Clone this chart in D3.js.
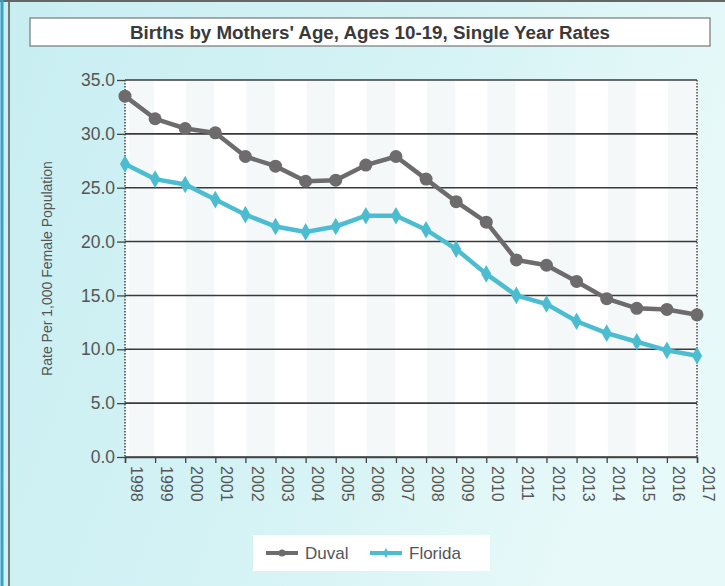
<!DOCTYPE html>
<html><head><meta charset="utf-8">
<script src="https://cdn.jsdelivr.net/npm/d3@7"></script>
<style>body{margin:0;background:#fff}svg{display:block}</style>
</head><body><svg id="c" width="725" height="586"></svg>
<script>
const years = [1998,1999,2000,2001,2002,2003,2004,2005,2006,2007,2008,2009,2010,2011,2012,2013,2014,2015,2016,2017];
const duval = [33.5,31.4,30.5,30.1,27.9,27.0,25.6,25.7,27.1,27.9,25.8,23.7,21.8,18.3,17.8,16.3,14.7,13.8,13.7,13.2];
const florida = [27.2,25.8,25.3,23.9,22.5,21.4,20.9,21.4,22.4,22.4,21.1,19.3,17.0,15.0,14.2,12.6,11.5,10.7,9.9,9.4];
const yTicks = [0,5,10,15,20,25,30,35];
const title = "Births by Mothers' Age, Ages 10-19, Single Year Rates";
const yLabel = "Rate Per 1,000 Female Population";
const seriesNames = ["Duval","Florida"];

const NARROW = "Liberation Sans Narrow, Arial Narrow, Liberation Sans, Arial, sans-serif";
const svg = d3.select("#c");
const defs = svg.append("defs");
const g1 = defs.append("linearGradient").attr("id","bg").attr("x1","0").attr("x2","1").attr("y1","0").attr("y2","0.3");
g1.append("stop").attr("offset","0").attr("stop-color","#c8eef2");
g1.append("stop").attr("offset","0.6").attr("stop-color","#d6f3f5");
g1.append("stop").attr("offset","1").attr("stop-color","#e8f9f9");
svg.append("rect").attr("width",725).attr("height",586).attr("fill","url(#bg)");
svg.append("line").attr("x1",9).attr("x2",9).attr("y1",0).attr("y2",586).attr("stroke","#555").attr("stroke-width",1.5);
svg.append("line").attr("x1",0).attr("x2",725).attr("y1",1).attr("y2",1).attr("stroke","#666").attr("stroke-width",2);
svg.append("line").attr("x1",2).attr("x2",2).attr("y1",0).attr("y2",586).attr("stroke","#3aa0d0").attr("stroke-width",3);

// title
svg.append("rect").attr("x",30).attr("y",18).attr("width",680).attr("height",28).attr("fill","#fff").attr("stroke","#777").attr("stroke-width",1.2);
svg.append("text").attr("x",130).attr("y",39)
  .attr("font-family",NARROW).attr("font-weight","bold").attr("font-size",18)
  .attr("textLength",480).attr("lengthAdjust","spacingAndGlyphs")
  .attr("fill","#3a3a3a").text(title);

const m = {l:125, r:697, t:80, b:457};
const x = d3.scalePoint().domain(years).range([m.l, m.r]);
const y = d3.scaleLinear().domain([0,35]).range([m.b, m.t]);

// plot background
svg.append("rect").attr("x",m.l).attr("y",m.t).attr("width",m.r-m.l).attr("height",m.b-m.t).attr("fill","#fff");
const stripes = svg.append("g");
years.forEach((yr,i)=>{
  if(i%2===0 && i<years.length-1){
    stripes.append("rect").attr("x",x(yr)+(i===0?4:1)).attr("y",m.t+1).attr("width",x.step()-(i===0?5:2)).attr("height",m.b-m.t-1).attr("fill","#f5f8f8");
  }
});

// gridlines
svg.append("g").selectAll("line").data(yTicks).join("line")
  .attr("x1",m.l).attr("x2",m.r).attr("y1",d=>y(d)).attr("y2",d=>y(d))
  .attr("stroke","#3a3a3a").attr("stroke-width",1.6);
// dotted verticals
[m.l,m.r].forEach(xx=>svg.append("line").attr("x1",xx).attr("x2",xx).attr("y1",m.t).attr("y2",m.b)
  .attr("stroke","#444").attr("stroke-width",1.5).attr("stroke-dasharray","1.5,1.5"));

// y axis
const ya = svg.append("g").attr("transform",`translate(${m.l},0)`)
  .call(d3.axisLeft(y).tickValues(yTicks).tickFormat(d3.format(".1f")).tickSize(8).tickPadding(2));
ya.select(".domain").remove();
ya.selectAll("line").attr("stroke","#444").attr("stroke-width",1.3);
ya.selectAll("text").attr("font-family",NARROW).attr("font-size",17.5).attr("fill","#555");

// x axis
const xa = svg.append("g").attr("transform",`translate(0,${m.b})`)
  .call(d3.axisBottom(x).tickSize(6).tickPadding(4));
xa.select(".domain").attr("stroke","#444").attr("stroke-width",1.5);
xa.selectAll("line").attr("stroke","#444").attr("stroke-width",1.3);
xa.selectAll("text").attr("font-family",NARROW).attr("font-size",16).attr("fill","#555")
  .attr("transform","rotate(90)").attr("text-anchor","start").attr("dy","-0.35em").attr("x",9).attr("y",0);

// y label
svg.append("text").attr("transform",`translate(52,${(m.t+m.b)/2}) rotate(-90)`).attr("text-anchor","middle")
  .attr("font-family",NARROW).attr("font-size",14).attr("fill","#555")
  .text(yLabel);

// lines
const line = d3.line().x((d,i)=>x(years[i])).y(d=>y(d));
const cD = "#6d6b6c", cF = "#4cbdd0";
svg.append("path").attr("d",line(duval)).attr("fill","none").attr("stroke",cD).attr("stroke-width",4.5);
svg.append("g").selectAll("circle").data(duval).join("circle")
  .attr("cx",(d,i)=>x(years[i])).attr("cy",d=>y(d)).attr("r",6.5).attr("fill",cD);
svg.append("path").attr("d",line(florida)).attr("fill","none").attr("stroke",cF).attr("stroke-width",4.5);
svg.append("g").selectAll("path").data(florida).join("path")
  .attr("d",d3.symbol().type(d3.symbolDiamond).size(90)).attr("transform",(d,i)=>`translate(${x(years[i])},${y(d)})`).attr("fill",cF);

// legend
svg.append("rect").attr("x",253).attr("y",535).attr("width",237).attr("height",36).attr("fill","#fff");
const leg = [{n:seriesNames[0],c:cD,x:266},{n:seriesNames[1],c:cF,x:370}];
leg.forEach((l,k)=>{
  svg.append("line").attr("x1",l.x).attr("x2",l.x+32).attr("y1",553).attr("y2",553).attr("stroke",l.c).attr("stroke-width",4);
  if(k===0) svg.append("circle").attr("cx",l.x+16).attr("cy",553).attr("r",3.5).attr("fill",l.c);
  else svg.append("path").attr("d",d3.symbol().type(d3.symbolDiamond).size(30)).attr("transform",`translate(${l.x+16},553)`).attr("fill",l.c);
  svg.append("text").attr("x",l.x+39).attr("y",559).attr("font-family",NARROW).attr("font-size",17).attr("fill","#555").text(l.n);
});
</script></body></html>
